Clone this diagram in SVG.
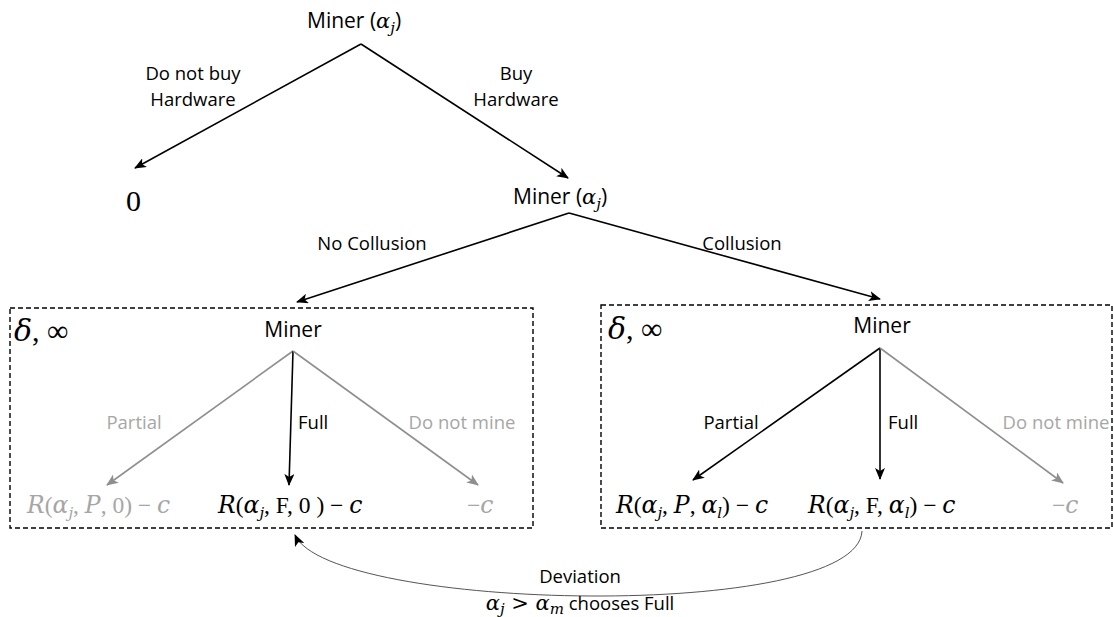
<svg xmlns="http://www.w3.org/2000/svg" width="1114" height="617" viewBox="0 0 1114 617">
<style>
.t{font-family:"Open Sans","Liberation Sans",sans-serif;font-size:18.5px;fill:#000}
.big{font-family:"Open Sans","Liberation Sans",sans-serif;font-size:21px;fill:#000}
.m{font-family:"DejaVu Serif","Liberation Serif",serif;font-style:italic}
.sub{font-size:15px}
.f{font-family:"Liberation Serif",serif;font-size:23.5px;fill:#000}
.fl{font-family:"Liberation Serif",serif;font-size:30px;fill:#000}
.g{fill:#a6a6a6}
.ln{stroke:#000;stroke-width:1.6;fill:none}
.lg{stroke:#8f8f8f;stroke-width:1.6;fill:none}
.box{stroke:#000;stroke-width:1.4;fill:none;stroke-dasharray:5 3}
</style>
<defs>
<marker id="ab" viewBox="0 0 12 10" refX="11" refY="5" markerWidth="12" markerHeight="10" markerUnits="userSpaceOnUse" orient="auto">
<path d="M0,0 L12,5 L0,10 L3,5 Z" fill="#000"/>
</marker>
<marker id="ag" viewBox="0 0 12 10" refX="11" refY="5" markerWidth="12" markerHeight="10" markerUnits="userSpaceOnUse" orient="auto">
<path d="M0,0 L12,5 L0,10 L3,5 Z" fill="#8f8f8f"/>
</marker>
</defs>
<rect width="1114" height="617" fill="#fff"/>

<g id="connectors">
<line class="ln" x1="361" y1="44" x2="135" y2="168" marker-end="url(#ab)"/>
<line class="ln" x1="361" y1="44" x2="568" y2="178" marker-end="url(#ab)"/>
<line class="ln" x1="569" y1="213" x2="297" y2="302" marker-end="url(#ab)"/>
<line class="ln" x1="569" y1="213" x2="880" y2="299" marker-end="url(#ab)"/>
<line class="lg" x1="293" y1="351" x2="107" y2="485" marker-end="url(#ag)"/>
<line class="ln" x1="293" y1="351" x2="289" y2="485" marker-end="url(#ab)"/>
<line class="lg" x1="293" y1="351" x2="478" y2="485" marker-end="url(#ag)"/>
<line class="ln" x1="880" y1="348" x2="693" y2="480" marker-end="url(#ab)"/>
<line class="ln" x1="880" y1="348" x2="880" y2="479" marker-end="url(#ab)"/>
<line class="lg" x1="880" y1="348" x2="1063" y2="483" marker-end="url(#ag)"/>
<path d="M862,531 C858,622 330,612 295,535" stroke="#555" stroke-width="1" fill="none" marker-end="url(#ab)"/>
</g>

<g id="root">
<text class="big" x="307" y="28">Miner (<tspan class="m">α</tspan><tspan class="m sub" dy="5">j</tspan><tspan dy="-5">)</tspan></text>
</g>
<g id="label-nobuy">
<text class="t" x="193" y="80" text-anchor="middle">Do not buy</text>
<text class="t" x="193" y="106" text-anchor="middle">Hardware</text>
</g>
<g id="label-buy">
<text class="t" x="516" y="80" text-anchor="middle">Buy</text>
<text class="t" x="516" y="106" text-anchor="middle">Hardware</text>
</g>
<g id="zero">
<text class="fl" x="126" y="211">0</text>
</g>
<g id="miner2">
<text class="big" x="513" y="204">Miner (<tspan class="m">α</tspan><tspan class="m sub" dy="5">j</tspan><tspan dy="-5">)</tspan></text>
</g>
<g id="label-collusion">
<text class="t" x="372" y="250" text-anchor="middle">No Collusion</text>
<text class="t" x="742" y="250" text-anchor="middle">Collusion</text>
</g>

<g id="box-nocollusion">
<rect class="box" x="10" y="308" width="523" height="220"/>
<text class="fl" x="14" y="341"><tspan class="m">δ</tspan>, ∞</text>
<text class="big" x="293" y="337" text-anchor="middle">Miner</text>
<text class="t g" x="134" y="429" text-anchor="middle">Partial</text>
<text class="t" x="298" y="429">Full</text>
<text class="t g" x="462" y="429" text-anchor="middle">Do not mine</text>
<text class="f g" x="27" y="513"><tspan class="m">R</tspan>(<tspan class="m">α</tspan><tspan class="m sub" dy="5">j</tspan><tspan dy="-5">, </tspan><tspan class="m">P</tspan>, 0) − <tspan class="m">c</tspan></text>
<text class="f" x="218" y="513"><tspan class="m">R</tspan>(<tspan class="m">α</tspan><tspan class="m sub" dy="5">j</tspan><tspan dy="-5">, F, 0 ) − </tspan><tspan class="m">c</tspan></text>
<text class="f g" x="467" y="513">−<tspan class="m">c</tspan></text>
</g>

<g id="box-collusion">
<rect class="box" x="601" y="305" width="511" height="223"/>
<text class="fl" x="608" y="339"><tspan class="m">δ</tspan>, ∞</text>
<text class="big" x="882" y="333" text-anchor="middle">Miner</text>
<text class="t" x="731" y="429" text-anchor="middle">Partial</text>
<text class="t" x="888" y="429">Full</text>
<text class="t g" x="1056" y="429" text-anchor="middle">Do not mine</text>
<text class="f" x="616" y="513"><tspan class="m">R</tspan>(<tspan class="m">α</tspan><tspan class="m sub" dy="5">j</tspan><tspan dy="-5">, </tspan><tspan class="m">P</tspan>, <tspan class="m">α</tspan><tspan class="m sub" dy="5">l</tspan><tspan dy="-5">) − </tspan><tspan class="m">c</tspan></text>
<text class="f" x="808" y="513"><tspan class="m">R</tspan>(<tspan class="m">α</tspan><tspan class="m sub" dy="5">j</tspan><tspan dy="-5">, F, </tspan><tspan class="m">α</tspan><tspan class="m sub" dy="5">l</tspan><tspan dy="-5">) − </tspan><tspan class="m">c</tspan></text>
<text class="f g" x="1052" y="513">−<tspan class="m">c</tspan></text>
</g>

<g id="label-deviation">
<text class="t" x="580" y="583" text-anchor="middle">Deviation</text>
<text class="t" x="580" y="610" text-anchor="middle"><tspan class="m" style="font-size:21px">α</tspan><tspan class="m sub" dy="4">j</tspan><tspan class="m" style="font-size:21px;font-style:normal" dy="-4"> &gt; </tspan><tspan class="m" style="font-size:21px">α</tspan><tspan class="m sub" dy="4">m</tspan><tspan dy="-4"> chooses Full</tspan></text>
</g>
</svg>
